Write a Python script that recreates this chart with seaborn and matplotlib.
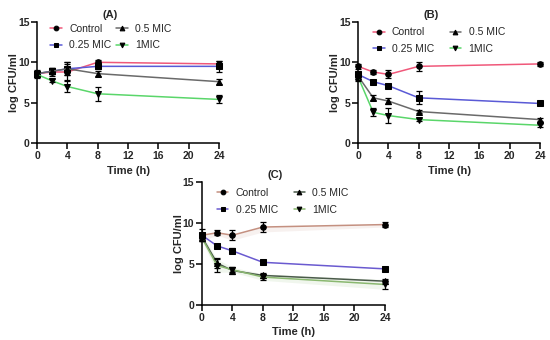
import matplotlib
matplotlib.use("Agg")
import matplotlib.pyplot as plt
import seaborn as sns
import pandas as pd
import numpy as np

sns.set_theme(style="ticks")
plt.rcParams['font.family'] = ['Liberation Sans', 'DejaVu Sans']

time = [0, 2, 4, 8, 24]
series = ["Control", "0.25 MIC", "0.5 MIC", "1MIC"]

# Panel A
a_control = [8.6, 8.8, 8.8, 10.0, 9.8]
a_q25 = [8.6, 8.9, 9.2, 9.5, 9.5]
a_half = [8.6, 8.9, 9.2, 8.6, 7.6]
a_one = [8.5, 7.7, 7.0, 6.1, 5.4]
a_control_err = [0.5, 0.5, 1.0, 0.3, 0.4]
a_q25_err = [0.3, 0.4, 0.8, 0.3, 0.7]
a_half_err = [0.3, 0.4, 0.8, 0.3, 0.3]
a_one_err = [0.3, 0.2, 0.7, 0.9, 0.5]

# Panel B
b_control = [9.5, 8.8, 8.5, 9.5, 9.8]
b_q25 = [8.5, 7.6, 7.1, 5.6, 4.9]
b_half = [8.3, 5.6, 5.2, 3.9, 2.9]
b_one = [8.2, 3.8, 3.4, 2.9, 2.2]
b_control_err = [0.3, 0.3, 0.5, 0.6, 0.3]
b_q25_err = [0.3, 0.2, 0.2, 0.8, 0.2]
b_half_err = [0.5, 0.3, 0.4, 0.2, 0.2]
b_one_err = [0.5, 0.5, 0.9, 0.2, 0.2]

# Panel C
c_control = [8.5, 8.8, 8.5, 9.5, 9.8]
c_q25 = [8.5, 7.2, 6.6, 5.2, 4.4]
c_half = [8.3, 5.1, 4.2, 3.6, 2.9]
c_one = [8.2, 4.8, 4.3, 3.4, 2.5]
c_control_err = [0.7, 0.3, 0.6, 0.6, 0.3]
c_q25_err = [0.3, 0.2, 0.3, 0.2, 0.2]
c_half_err = [0.5, 0.6, 0.4, 0.3, 0.3]
c_one_err = [0.4, 0.8, 0.3, 0.4, 0.6]

markers = {"Control": "o", "0.25 MIC": "s", "0.5 MIC": "^", "1MIC": "v"}
colors_ab = {"Control": "#f0587a", "0.25 MIC": "#5a5ad6", "0.5 MIC": "#6a6a6a", "1MIC": "#5ad66a"}
colors_c = {"Control": "#c49080", "0.25 MIC": "#6a5ad0", "0.5 MIC": "#4a5a4a", "1MIC": "#8ab870"}

fig = plt.figure(figsize=(5.5, 3.4), dpi=100)

def panel(rect, title, vals, errs, colors, legend_anchor, colspace, shade=False):
    ax = fig.add_axes(rect)
    rows = []
    for s, v in zip(series, vals):
        for t, y in zip(time, v):
            rows.append({"Time": t, "val": y, "series": s})
    df = pd.DataFrame(rows)
    sns.lineplot(data=df, x="Time", y="val", hue="series", style="series",
                 hue_order=series, style_order=series,
                 palette=colors, markers=markers, dashes=False,
                 markersize=4.0, markeredgecolor="black", linewidth=1.1,
                 ax=ax, clip_on=False, zorder=3)
    for line in ax.lines:
        line.set_markerfacecolor("black")
        line.set_markeredgecolor("black")
        line.set_clip_on(False)
    if shade:
        for s, v, e in zip(series, vals, errs):
            if s in ("Control", "1MIC"):
                lo = [y - d for y, d in zip(v, e)]
                hi = [y + d for y, d in zip(v, e)]
                ax.fill_between(time, lo, v if s == "Control" else hi,
                                color=colors[s], alpha=0.12, lw=0, zorder=1)
    for s, v, e in zip(series, vals, errs):
        ax.errorbar(time, v, yerr=e, fmt="none", ecolor="black",
                    elinewidth=0.9, capsize=2.5, capthick=0.9, zorder=4, clip_on=False)
    ax.set_xlim(0, 24)
    ax.set_ylim(0, 15)
    ax.set_xticks([0, 4, 8, 12, 16, 20, 24])
    ax.set_yticks([0, 5, 10, 15])
    for lab in ax.get_xticklabels() + ax.get_yticklabels():
        lab.set_fontweight("bold")
        lab.set_fontsize(7.5)
    ax.tick_params(length=4, width=1.1, color="black", pad=1.5)
    ax.set_xlabel("Time (h)", fontsize=8, fontweight="bold", labelpad=3.5)
    ax.set_ylabel("log CFU/ml", fontsize=8, fontweight="bold", labelpad=-1)
    sns.despine(ax=ax)
    for sp in ["left", "bottom"]:
        ax.spines[sp].set_linewidth(1.1)
        ax.spines[sp].set_color("black")
    ax.text(0.40, 1.055, title, transform=ax.transAxes, ha="center", va="center",
            fontsize=8, fontweight="bold")
    handles, labels = ax.get_legend_handles_labels()
    ax.legend(handles, labels, ncol=2, loc="upper left", bbox_to_anchor=legend_anchor,
              frameon=False, fontsize=7.5, handlelength=1.1, handletextpad=0.7,
              columnspacing=colspace, labelspacing=0.65, borderaxespad=0,
              markerscale=0.85)
    return ax

panel([0.0673, 0.5794, 0.331, 0.356], "(A)",
      [a_control, a_q25, a_half, a_one],
      [a_control_err, a_q25_err, a_half_err, a_one_err], colors_ab, (0.05, 1.02), 0.5)
panel([0.651, 0.5794, 0.331, 0.356], "(B)",
      [b_control, b_q25, b_half, b_one],
      [b_control_err, b_q25_err, b_half_err, b_one_err], colors_ab, (0.06, 0.99), 1.5)
panel([0.367, 0.103, 0.333, 0.362], "(C)",
      [c_control, c_q25, c_half, c_one],
      [c_control_err, c_q25_err, c_half_err, c_one_err], colors_c, (0.06, 0.985), 1.5,
      shade=True)

fig.savefig("out.png", dpi=100)
